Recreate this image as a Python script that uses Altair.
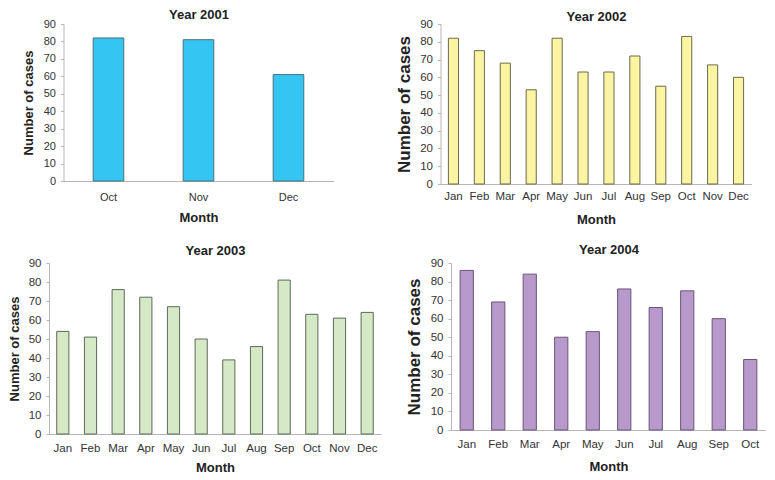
import altair as alt
import pandas as pd

FONT = "Liberation Sans"

months_2001 = ["Oct", "Nov", "Dec"]
cases_2001 = [82, 81, 61]

months_2002 = ["Jan", "Feb", "Mar", "Apr", "May", "Jun", "Jul", "Aug", "Sep", "Oct", "Nov", "Dec"]
cases_2002 = [82, 75, 68, 53, 82, 63, 63, 72, 55, 83, 67, 60]

months_2003 = ["Jan", "Feb", "Mar", "Apr", "May", "Jun", "Jul", "Aug", "Sep", "Oct", "Nov", "Dec"]
cases_2003 = [54, 51, 76, 72, 67, 50, 39, 46, 81, 63, 61, 64]

months_2004 = ["Jan", "Feb", "Mar", "Apr", "May", "Jun", "Jul", "Aug", "Sep", "Oct"]
cases_2004 = [86, 69, 84, 50, 53, 76, 66, 75, 60, 38]

y_ticks = [0, 10, 20, 30, 40, 50, 60, 70, 80, 90]


def panel(months, cases, title, fill, stroke, w, h, pad, ytitle_size, ytp,
          xlp, xtp, lab_size, title_pad):
    df = pd.DataFrame({"Month": months, "Cases": cases})
    xscale = alt.Scale(domain=months, paddingInner=pad, paddingOuter=pad / 2)
    bars = alt.Chart(df).mark_bar(fill=fill, stroke=stroke, strokeWidth=1).encode(
        x=alt.X(
            "Month:N",
            title="Month",
            scale=xscale,
            axis=alt.Axis(
                orient="bottom", labelAngle=0, ticks=False, labelPadding=xlp,
                titlePadding=xtp, labelFontSize=lab_size, titleFontSize=13,
            ),
        ),
        y=alt.Y(
            "Cases:Q",
            title="Number of cases",
            scale=alt.Scale(domain=[0, 90], nice=False),
            axis=alt.Axis(
                values=y_ticks, tickSize=3, labelPadding=5, titlePadding=ytp,
                labelFontSize=lab_size, titleFontSize=ytitle_size,
            ),
        ),
    )
    head = alt.Chart(df).mark_bar(opacity=0).encode(
        x=alt.X(
            "Month:N",
            title=title,
            scale=xscale,
            axis=alt.Axis(
                orient="top", labels=False, ticks=False, domain=False,
                titlePadding=title_pad, titleFontSize=13, titleColor="#222222",
            ),
        ),
    )
    return alt.layer(bars, head).resolve_axis(x="independent").properties(
        width=w, height=h
    )


p1 = panel(months_2001, cases_2001, "Year 2001", "#35c5f2", "#4a6f7e",
           270, 157, 0.66, 13, 8, 10, 9, 11, 3)
p2 = panel(months_2002, cases_2002, "Year 2002", "#fbf5a3", "#6b6a4a",
           311, 160, 0.61, 17, 6, 6, 12, 11.5, 1)
p3 = panel(months_2003, cases_2003, "Year 2003", "#d5e9c6", "#5d6b5a",
           332, 171, 0.56, 13, 7, 8, 8, 11.5, 6)
p4 = panel(months_2004, cases_2004, "Year 2004", "#b899cc", "#6a5478",
           315, 167, 0.58, 17, 7, 8, 11, 11.5, 7)

row1 = alt.hconcat(p1, p2, spacing=62)
row2 = alt.hconcat(p3, p4, spacing=24)

chart = alt.vconcat(row1, row2, spacing=16, center=True).properties(
    padding={"left": 0, "top": 0, "right": 0, "bottom": 0}
).configure_view(stroke=None).configure_axis(
    grid=False,
    domainColor="#b5b5b5",
    tickColor="#b5b5b5",
    labelColor="#333333",
    titleColor="#222222",
    labelFont=FONT,
    titleFont=FONT,
    titleFontWeight="bold",
)

chart.save("out.html", embed_options={"renderer": "svg", "actions": False})
